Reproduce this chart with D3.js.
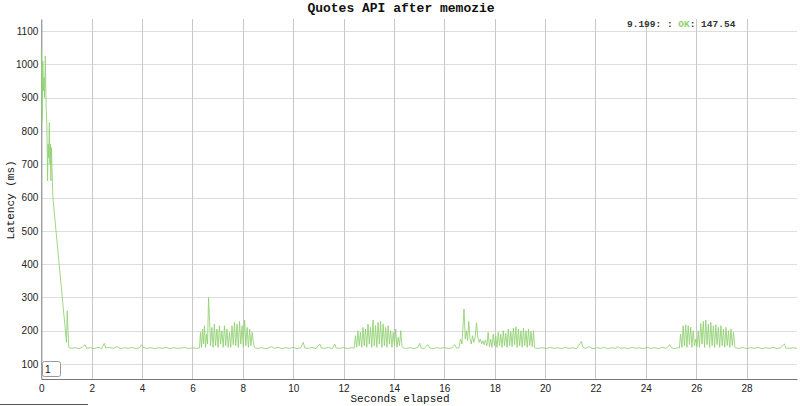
<!DOCTYPE html>
<html>
<head>
<meta charset="utf-8">
<script src="https://cdn.jsdelivr.net/npm/d3@7/dist/d3.min.js"></script>
<style>
  html, body { margin: 0; padding: 0; background: #fff; }
  svg { display: block; }
</style>
</head>
<body>
<svg id="chart" width="800" height="406"></svg>
<script>
// ---- data: [seconds elapsed, latency ms] ----
const warmup = [[0,1045],[0.03,830],[0.06,1010],[0.09,920],[0.11,960],[0.13,900],[0.16,1025],[0.19,880],[0.22,820],[0.25,650],[0.27,760],[0.29,720],[0.32,825],[0.34,700],[0.36,760],[0.38,650],[0.40,750],[0.42,700],[0.46,600],[1.0,165],[1.03,260],[1.06,200],[1.09,150],[1.14,148]];
const base1 = [[1.2,147],[1.35,149],[1.5,146],[1.62,150],[1.74,158],[1.8,147],[1.95,149],[2.1,146],[2.25,150],[2.4,147],[2.5,162],[2.56,148],[2.7,150],[2.85,147],[3.0,152],[3.15,146],[3.3,149],[3.45,147],[3.6,150],[3.75,146],[3.9,149],[3.98,158],[4.04,150],[4.2,147],[4.35,149],[4.5,146],[4.65,149],[4.8,147],[4.95,150],[5.1,146],[5.25,149],[5.4,147],[5.55,148],[5.7,150],[5.85,146],[6.0,149],[6.15,147],[6.28,148]];
const burst1 = [[6.32,195],[6.36,150],[6.40,205],[6.44,160],[6.48,215],[6.52,150],[6.56,190],[6.60,160],[6.64,300],[6.68,230],[6.72,155],[6.77,210],[6.82,150],[6.87,220],[6.92,155],[6.97,205],[7.02,150],[7.07,215],[7.12,160],[7.17,200],[7.22,150],[7.27,215],[7.32,155],[7.37,205],[7.42,150],[7.47,195],[7.52,150],[7.57,215],[7.62,158],[7.67,225],[7.72,155],[7.77,220],[7.82,150],[7.87,228],[7.92,160],[7.97,215],[8.02,150],[8.07,232],[8.12,155],[8.17,210],[8.22,150],[8.27,205],[8.32,155],[8.37,195],[8.42,165],[8.46,150],[8.5,148]];
const base2 = [[8.6,147],[8.75,149],[8.9,146],[9.05,149],[9.15,152],[9.25,147],[9.4,150],[9.55,146],[9.7,149],[9.85,147],[10.0,150],[10.15,146],[10.3,149],[10.4,165],[10.46,148],[10.6,147],[10.75,150],[10.9,146],[11.06,160],[11.12,148],[11.25,147],[11.4,150],[11.55,146],[11.65,160],[11.7,148],[11.85,147],[12.0,150],[12.15,146],[12.3,149],[12.42,148]];
const burst2 = [[12.47,185],[12.52,150],[12.57,200],[12.62,155],[12.67,195],[12.72,150],[12.77,210],[12.82,155],[12.87,205],[12.92,150],[12.97,220],[13.02,160],[13.07,210],[13.12,150],[13.17,232],[13.22,155],[13.27,215],[13.32,150],[13.37,225],[13.42,160],[13.47,228],[13.52,150],[13.57,220],[13.62,155],[13.67,210],[13.72,150],[13.77,215],[13.82,160],[13.87,200],[13.92,150],[13.97,195],[14.02,155],[14.07,205],[14.12,150],[14.17,180],[14.22,155],[14.27,200],[14.32,152],[14.37,148]];
const base3 = [[14.5,147],[14.65,149],[14.8,146],[14.95,150],[15.02,162],[15.08,148],[15.2,147],[15.35,158],[15.42,148],[15.55,146],[15.7,149],[15.85,147],[16.0,150],[16.15,146],[16.3,149],[16.42,158],[16.48,148],[16.58,148]];
const burst3 = [[16.64,175],[16.70,160],[16.78,265],[16.83,175],[16.88,200],[16.92,170],[16.97,228],[17.02,175],[17.07,160],[17.12,185],[17.17,165],[17.22,180],[17.28,224],[17.33,180],[17.38,165],[17.43,175],[17.48,160],[17.53,170],[17.58,158],[17.63,172],[17.69,155],[17.74,195],[17.79,152],[17.84,175],[17.89,150],[17.94,190],[17.99,155],[18.04,185],[18.09,150],[18.14,195],[18.19,155],[18.24,190],[18.29,150],[18.34,200],[18.39,155],[18.44,192],[18.49,150],[18.54,205],[18.59,155],[18.64,198],[18.69,152],[18.74,208],[18.79,158],[18.84,212],[18.89,150],[18.94,205],[18.99,155],[19.04,200],[19.09,150],[19.14,208],[19.19,155],[19.24,200],[19.29,150],[19.34,205],[19.39,155],[19.44,198],[19.49,152],[19.54,200],[19.58,150],[19.62,148]];
const base4 = [[19.75,147],[19.9,149],[20.05,146],[20.2,150],[20.35,147],[20.5,149],[20.65,146],[20.8,150],[20.95,147],[21.1,149],[21.25,146],[21.44,168],[21.5,150],[21.6,147],[21.75,152],[21.9,146],[22.05,149],[22.2,147],[22.35,150],[22.5,146],[22.65,149],[22.8,147],[22.9,152],[23.0,147],[23.15,149],[23.3,146],[23.45,150],[23.6,147],[23.75,149],[23.9,146],[24.05,150],[24.2,147],[24.35,149],[24.5,146],[24.65,150],[24.8,147],[24.95,158],[25.02,148],[25.15,146],[25.25,149],[25.33,148]];
const burst4 = [[25.38,190],[25.43,150],[25.48,215],[25.53,155],[25.58,218],[25.63,150],[25.68,215],[25.73,158],[25.78,210],[25.83,150],[25.88,200],[25.93,155],[25.98,175],[26.03,152],[26.08,200],[26.13,150],[26.18,222],[26.23,160],[26.28,228],[26.33,150],[26.38,232],[26.43,158],[26.48,220],[26.53,150],[26.58,225],[26.63,155],[26.68,215],[26.73,150],[26.78,218],[26.83,158],[26.88,210],[26.93,150],[26.98,215],[27.03,155],[27.08,205],[27.13,150],[27.18,210],[27.23,155],[27.28,200],[27.33,150],[27.38,205],[27.43,155],[27.48,195],[27.53,152],[27.57,148]];
const base5 = [[27.7,147],[27.85,150],[28.0,146],[28.15,149],[28.3,147],[28.45,150],[28.6,146],[28.75,149],[28.9,147],[29.05,150],[29.2,146],[29.35,149],[29.5,160],[29.56,148],[29.7,147],[29.85,149],[30.0,147]];

const xTicks = [0,2,4,6,8,10,12,14,16,18,20,22,24,26,28];
const yTicks = [100,200,300,400,500,600,700,800,900,1000,1100];
const titleText = "Quotes API after memozie";
const xLabel = "Seconds elapsed";
const yLabel = "Latency (ms)";
const legendPrefix = "9.199: : ";
const legendSeries = "OK";
const legendSuffix = ": 147.54";
const seriesBadge = "1";

const series = [].concat(warmup, base1, burst1, base2, burst2, base3, burst3, base4, burst4, base5);

// ---- layout ----
const svg = d3.select("#chart");
const padL = 41.3, padR = 797, padT = 19, padB = 379;
const x = d3.scaleLinear().domain([0, 30]).range([padL, padR]);
const y = d3.scaleLinear().domain([55, 1136]).range([padB, padT]);
const green = "#8fd070";

// grid
svg.append("g").selectAll("line").data(yTicks).join("line")
  .attr("x1", padL).attr("x2", padR)
  .attr("y1", d => Math.round(y(d)) + 0.5).attr("y2", d => Math.round(y(d)) + 0.5)
  .attr("stroke", "#dedede").attr("stroke-width", 1);
svg.append("g").selectAll("line").data(xTicks.filter(d => d > 0)).join("line")
  .attr("x1", d => Math.round(x(d)) + 0.5).attr("x2", d => Math.round(x(d)) + 0.5)
  .attr("y1", padT).attr("y2", padB)
  .attr("stroke", "#c8c8c8").attr("stroke-width", 1);

// axes
const yAxis = svg.append("g").attr("transform", `translate(${padL},0)`)
  .call(d3.axisLeft(y).tickValues(yTicks).tickFormat(d3.format("d")).tickSize(0).tickPadding(3));
yAxis.select(".domain").attr("stroke", "#777");
yAxis.selectAll("text").attr("font-family", "Liberation Sans, Arial, sans-serif")
  .attr("font-size", 10).attr("fill", "#222");

const xAxis = svg.append("g").attr("transform", `translate(0,${padB})`)
  .call(d3.axisBottom(x).tickValues(xTicks).tickFormat(d3.format("d")).tickSize(0).tickPadding(6));
xAxis.select(".domain").attr("stroke", "#777");
xAxis.selectAll("text").attr("font-family", "Liberation Sans, Arial, sans-serif")
  .attr("font-size", 10).attr("fill", "#222");

// line
const line = d3.line().x(d => x(d[0])).y(d => y(d[1]));
svg.append("path").datum(series)
  .attr("d", line)
  .attr("fill", "none")
  .attr("stroke", green)
  .attr("stroke-opacity", 0.85)
  .attr("stroke-width", 1)
  .attr("stroke-linejoin", "round");

// title
svg.append("text").attr("x", 401).attr("y", 12).attr("text-anchor", "middle")
  .attr("font-family", "Liberation Mono, Courier New, monospace").attr("font-weight", "bold")
  .attr("font-size", 13).attr("fill", "#111").text(titleText);

// axis labels
svg.append("text").attr("x", 400).attr("y", 402).attr("text-anchor", "middle")
  .attr("font-family", "Liberation Mono, Courier New, monospace")
  .attr("font-size", 11).attr("fill", "#111").text(xLabel);
svg.append("text").attr("transform", "translate(14,200) rotate(-90)").attr("text-anchor", "middle")
  .attr("font-family", "Liberation Mono, Courier New, monospace")
  .attr("font-size", 11).attr("fill", "#111").text(yLabel);

// legend readout
const lg = svg.append("text").attr("x", 627).attr("y", 27)
  .attr("font-family", "Liberation Mono, Courier New, monospace")
  .attr("font-size", 9.5).attr("font-weight", "bold").attr("fill", "#333");
lg.append("tspan").text(legendPrefix);
lg.append("tspan").attr("fill", green).text(legendSeries);
lg.append("tspan").text(legendSuffix);

// series badge
svg.append("rect").attr("x", 42.5).attr("y", 361.5).attr("width", 18).attr("height", 15)
  .attr("rx", 2).attr("fill", "#fff").attr("stroke", "#999");
svg.append("text").attr("x", 45).attr("y", 373)
  .attr("font-family", "Liberation Sans, Arial, sans-serif").attr("font-size", 10)
  .attr("fill", "#111").text(seriesBadge);

// bottom rule
svg.append("line").attr("x1", 0).attr("x2", 88).attr("y1", 404.5).attr("y2", 404.5)
  .attr("stroke", "#555").attr("stroke-width", 1);
</script>
</body>
</html>
